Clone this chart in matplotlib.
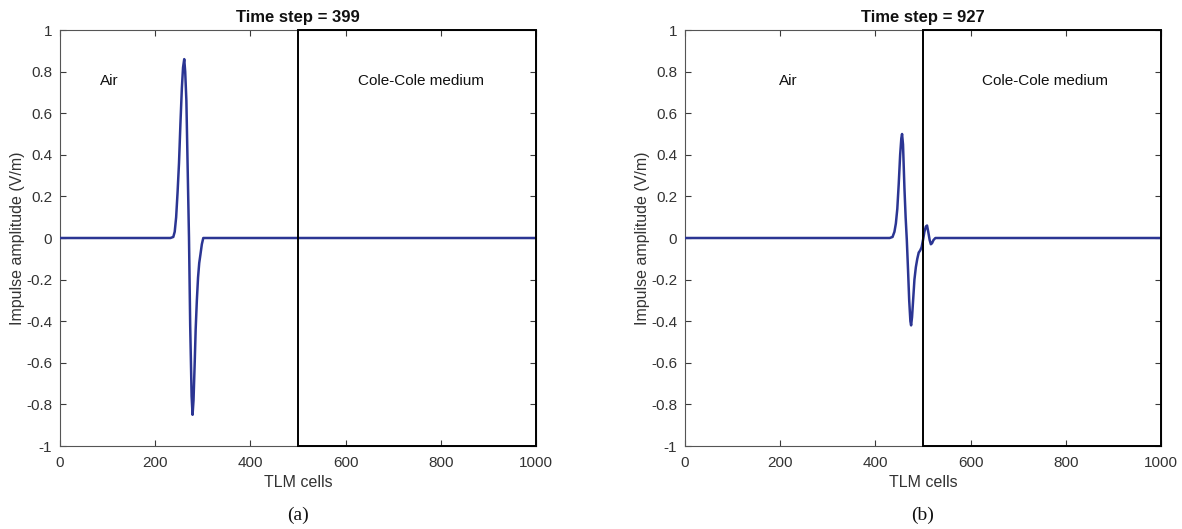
import matplotlib
matplotlib.use("Agg")
import matplotlib.pyplot as plt
from matplotlib.patches import Rectangle

plt.rcParams['font.family'] = ['Liberation Sans', 'DejaVu Sans']
plt.rcParams['axes.unicode_minus'] = False

# data
cells_a = [0, 232, 238, 241, 244, 247, 250, 253, 256, 258.5, 261, 263, 265.5, 268,
           271, 273.5, 276.5, 278.5, 280.5, 283, 285, 287.5, 290, 292.5, 295, 298, 301, 1000]
amp_a = [0, 0, 0.005, 0.03, 0.10, 0.22, 0.36, 0.55, 0.72, 0.82, 0.86, 0.80, 0.66, 0.36,
         0.0, -0.42, -0.76, -0.85, -0.78, -0.60, -0.44, -0.30, -0.19, -0.12, -0.08, -0.03, 0, 0]

cells_b = [0, 430, 436, 440, 443, 446, 449, 452, 454.5, 456, 458, 461, 463.5, 466,
           468.5, 471, 473.5, 475, 477, 479.5, 482, 485, 488, 491, 494, 497, 500,
           503, 506, 508.5, 511, 514, 516.5, 519, 522, 526, 1000]
amp_b = [0, 0, 0.005, 0.03, 0.07, 0.14, 0.26, 0.40, 0.48, 0.50, 0.45, 0.24, 0.10, -0.01,
         -0.15, -0.30, -0.40, -0.42, -0.38, -0.29, -0.20, -0.14, -0.10, -0.07, -0.06, -0.045, -0.01,
         0.03, 0.055, 0.06, 0.03, -0.01, -0.03, -0.025, -0.01, 0, 0]

time_steps = [399, 927]
panel_labels = ["(a)", "(b)"]
interface = 500
x_ticks = [0, 200, 400, 600, 800, 1000]
y_ticks = [-1, -0.8, -0.6, -0.4, -0.2, 0, 0.2, 0.4, 0.6, 0.8, 1]
y_ticklabels = ["-1", "-0.8", "-0.6", "-0.4", "-0.2", "0", "0.2", "0.4", "0.6", "0.8", "1"]
air_pos = [(103, 0.755), (218, 0.755)]
medium_pos = [(758, 0.755), (756, 0.755)]

line_col = "#2b3593"
axis_col = "#3a3a3a"

fig = plt.figure(figsize=(11.82, 5.29), dpi=100)
lefts = [60 / 1182, 685 / 1182]
width = 476 / 1182
bottom = 83 / 529
height = 416 / 529

series = [(cells_a, amp_a), (cells_b, amp_b)]

for i in range(2):
    ax = fig.add_axes([lefts[i], bottom, width, height])
    x, y = series[i]
    ax.plot(x, y, color=line_col, lw=1.8, zorder=3)
    ax.add_patch(Rectangle((interface, -1), 1000 - interface, 2, fill=False,
                           edgecolor="black", lw=1.4, zorder=4, clip_on=False))
    ax.set_xlim(0, 1000)
    ax.set_ylim(-1, 1)
    ax.set_xticks(x_ticks)
    ax.set_yticks(y_ticks)
    ax.set_yticklabels(y_ticklabels)
    ax.tick_params(direction="in", length=4, width=0.8, top=True, right=True,
                   colors=axis_col, labelsize=11, labelcolor="#333333")
    ax.tick_params(axis="x", pad=7)
    ax.tick_params(axis="y", pad=5.5)
    for s in ax.spines.values():
        s.set_color("#555555")
        s.set_linewidth(0.8)
    ax.set_xlabel("TLM cells", fontsize=11.5, color="#333333", labelpad=4)
    ax.set_ylabel("Impulse amplitude (V/m)", fontsize=11.5, color="#333333", labelpad=1)
    ax.set_title("Time step = " + str(time_steps[i]), fontsize=12, fontweight="bold",
                 color="#111111", pad=6)
    ax.text(air_pos[i][0], air_pos[i][1], "Air", fontsize=11, ha="center", va="center",
            color="#111111")
    ax.text(medium_pos[i][0], medium_pos[i][1], "Cole-Cole medium", fontsize=11,
            ha="center", va="center", color="#111111")
    fig.text(lefts[i] + width / 2, 14 / 529, panel_labels[i], fontsize=14,
             family="Liberation Serif", ha="center", va="center", color="#111111")

fig.savefig("out.png", dpi=100)
